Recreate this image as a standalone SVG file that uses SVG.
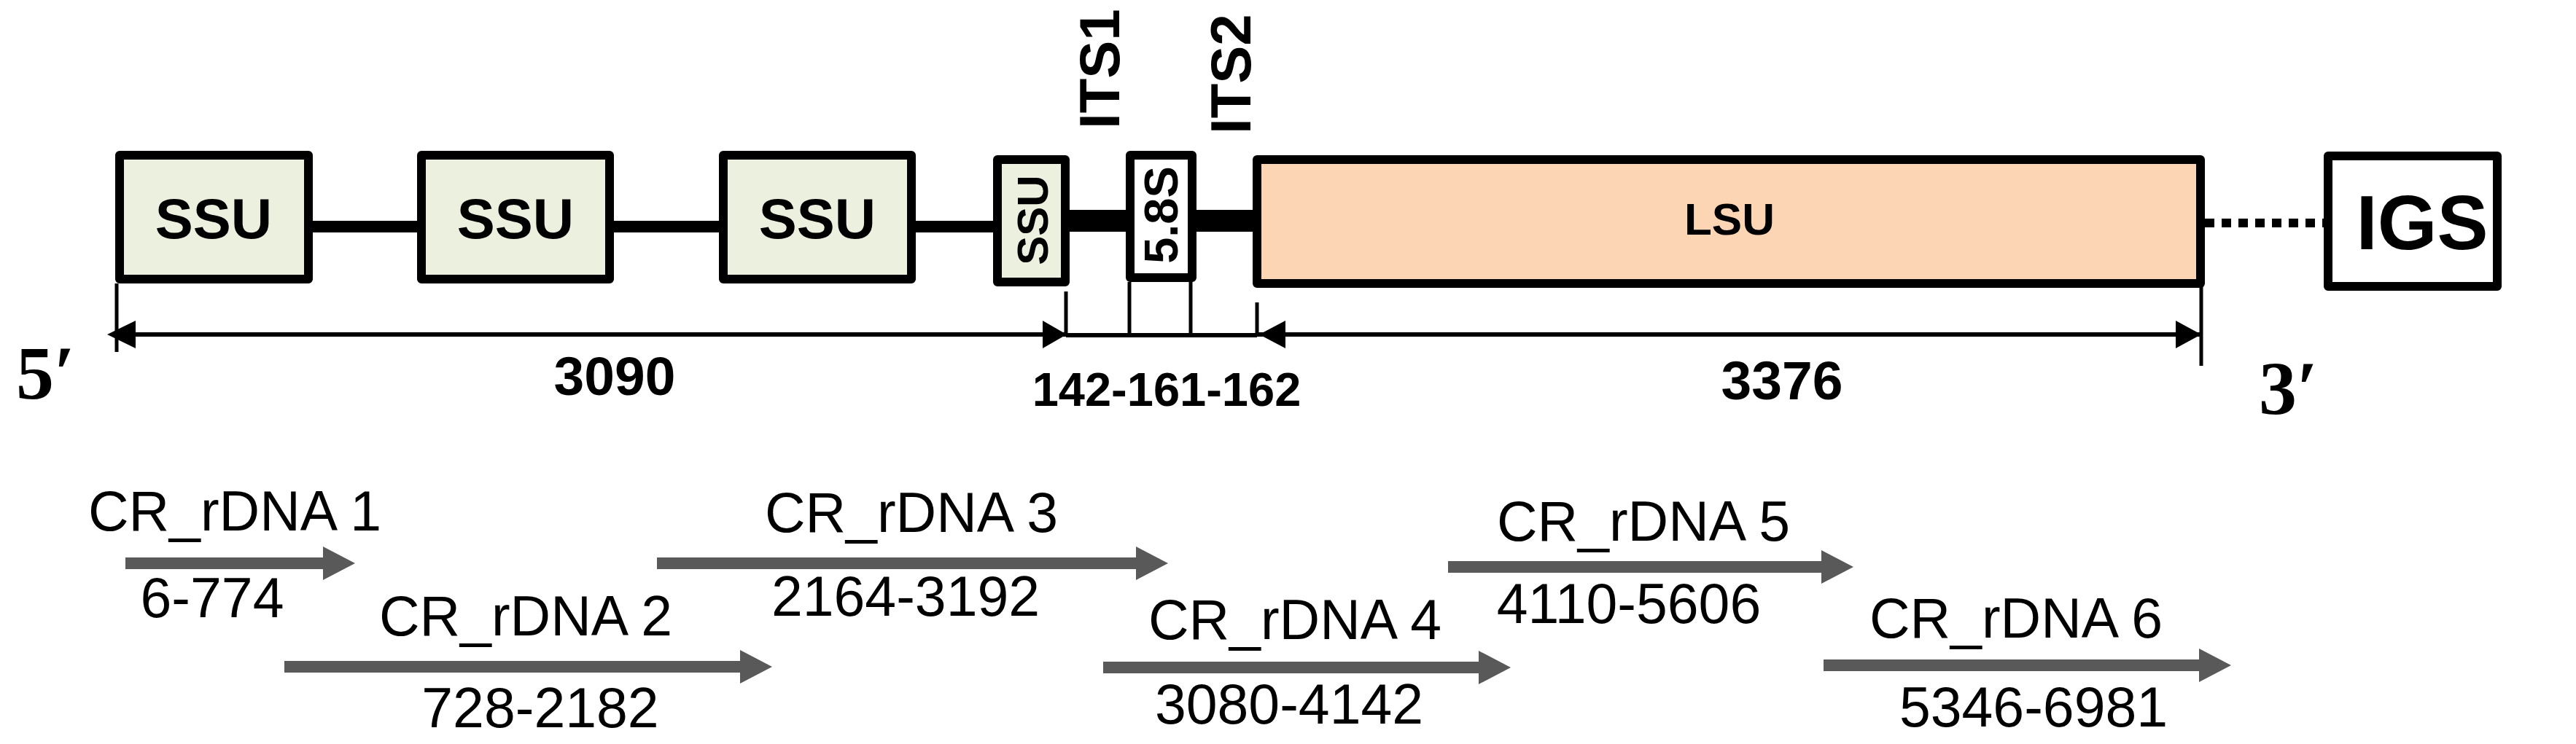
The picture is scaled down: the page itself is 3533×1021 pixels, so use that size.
<svg xmlns="http://www.w3.org/2000/svg" width="3533" height="1021" viewBox="0 0 3533 1021">
<style>
.box{stroke:#000;stroke-width:12;stroke-linejoin:round}
.ssu{fill:#EBF1DE}
.lsu{fill:#FCD5B4}
.wht{fill:#fff}
.bl{font-family:"Liberation Sans",Arial,sans-serif;font-weight:bold;fill:#000}
.rg{font-family:"Liberation Sans",Arial,sans-serif;fill:#000}
.sf{font-family:"Liberation Serif","Times New Roman",serif;font-weight:bold;fill:#000}
.lbl{font-family:"Liberation Sans",Arial,sans-serif;font-size:77px;fill:#000;text-anchor:middle}
.dim{stroke:#000;stroke-width:6;fill:none}
.tick{stroke:#000;stroke-width:5;fill:none}
.gar{fill:#595959}
</style>
<rect width="3533" height="1021" fill="#fff"/>
<g id="connectors">
  <line x1="429" y1="311" x2="572" y2="311" stroke="#000" stroke-width="16"/>
  <line x1="842" y1="311" x2="986" y2="311" stroke="#000" stroke-width="16"/>
  <line x1="1256" y1="311" x2="1362" y2="311" stroke="#000" stroke-width="16"/>
  <line x1="1467" y1="303" x2="1544" y2="303" stroke="#000" stroke-width="30"/>
  <line x1="1641" y1="303" x2="1718" y2="303" stroke="#000" stroke-width="30"/>
  <line x1="3024" y1="306" x2="3188" y2="306" stroke="#000" stroke-width="12" stroke-dasharray="13 10"/>
</g>
<g id="ssu1"><rect class="box ssu" x="164" y="213" width="259" height="170"/><text class="bl" x="293" y="327" font-size="78" text-anchor="middle">SSU</text></g>
<g id="ssu2"><rect class="box ssu" x="578" y="213" width="258" height="170"/><text class="bl" x="707" y="327" font-size="78" text-anchor="middle">SSU</text></g>
<g id="ssu3"><rect class="box ssu" x="992" y="213" width="258" height="170"/><text class="bl" x="1121" y="327" font-size="78" text-anchor="middle">SSU</text></g>
<g id="ssu4"><rect class="box ssu" x="1368" y="219" width="93" height="168"/><text class="bl" font-size="60" text-anchor="middle" transform="translate(1437,302) rotate(-90)">SSU</text></g>
<g id="s58"><rect class="box wht" x="1550" y="213" width="85" height="168"/><text class="bl" font-size="65" text-anchor="middle" transform="translate(1615,295) rotate(-90)">5.8S</text></g>
<g id="lsu"><rect class="box lsu" x="1724" y="219" width="1294" height="170"/><text class="bl" x="2372" y="322" font-size="62" text-anchor="middle">LSU</text></g>
<g id="igs"><rect class="box wht" x="3193" y="214" width="232" height="179"/><text class="bl" x="3322" y="342" font-size="105" text-anchor="middle">IGS</text></g>
<g id="its-labels">
  <text class="bl" font-size="78" transform="translate(1535,177) rotate(-90)">ITS1</text>
  <text class="bl" font-size="78" transform="translate(1715,184) rotate(-90)">ITS2</text>
</g>
<g id="dimensions">
  <line class="tick" x1="160" y1="389" x2="160" y2="483"/>
  <line class="dim" x1="160" y1="459" x2="1462" y2="459"/>
  <polygon points="147,459 186,440 186,478"/>
  <polygon points="1463,459 1430,440 1430,478"/>
  <line class="tick" x1="1462" y1="400" x2="1462" y2="460"/>
  <line class="tick" x1="1549" y1="387" x2="1549" y2="460"/>
  <line class="tick" x1="1633" y1="387" x2="1633" y2="460"/>
  <line class="tick" x1="1724" y1="415" x2="1724" y2="460"/>
  <line class="dim" x1="1462" y1="460" x2="1724" y2="460"/>
  <line class="dim" x1="1724" y1="459" x2="3019" y2="459"/>
  <polygon points="1727,459 1763,440 1763,478"/>
  <polygon points="3019,459 2984,440 2984,478"/>
  <line class="tick" x1="3019" y1="393" x2="3019" y2="502"/>
  <text class="sf" x="22" y="547" font-size="104">5′</text>
  <text class="sf" x="3098" y="568" font-size="104">3′</text>
  <text class="bl" x="843" y="542" font-size="75" text-anchor="middle">3090</text>
  <text class="bl" x="1600" y="557" font-size="65" text-anchor="middle">142-161-162</text>
  <text class="bl" x="2444" y="548" font-size="75" text-anchor="middle">3376</text>
</g>
<g id="cr1"><polygon class="gar" points="172,765 443,765 443,750 487,773 443,796 443,781 172,781"/><text class="lbl" x="322" y="728">CR_rDNA 1</text><text class="lbl" x="291" y="847">6-774</text></g>
<g id="cr2"><polygon class="gar" points="390,907 1015,907 1015,892 1059,915 1015,938 1015,923 390,923"/><text class="lbl" x="721" y="872">CR_rDNA 2</text><text class="lbl" x="741" y="998">728-2182</text></g>
<g id="cr3"><polygon class="gar" points="901,765 1558,765 1558,750 1602,773 1558,796 1558,781 901,781"/><text class="lbl" x="1250" y="730">CR_rDNA 3</text><text class="lbl" x="1242" y="845">2164-3192</text></g>
<g id="cr4"><polygon class="gar" points="1513,908 2028,908 2028,893 2072,916 2028,939 2028,924 1513,924"/><text class="lbl" x="1776" y="877">CR_rDNA 4</text><text class="lbl" x="1768" y="993">3080-4142</text></g>
<g id="cr5"><polygon class="gar" points="1986,770 2498,770 2498,755 2542,778 2498,801 2498,786 1986,786"/><text class="lbl" x="2254" y="742">CR_rDNA 5</text><text class="lbl" x="2234" y="855">4110-5606</text></g>
<g id="cr6"><polygon class="gar" points="2501,905 3016,905 3016,890 3060,913 3016,936 3016,921 2501,921"/><text class="lbl" x="2765" y="875">CR_rDNA 6</text><text class="lbl" x="2789" y="997">5346-6981</text></g>
</svg>
